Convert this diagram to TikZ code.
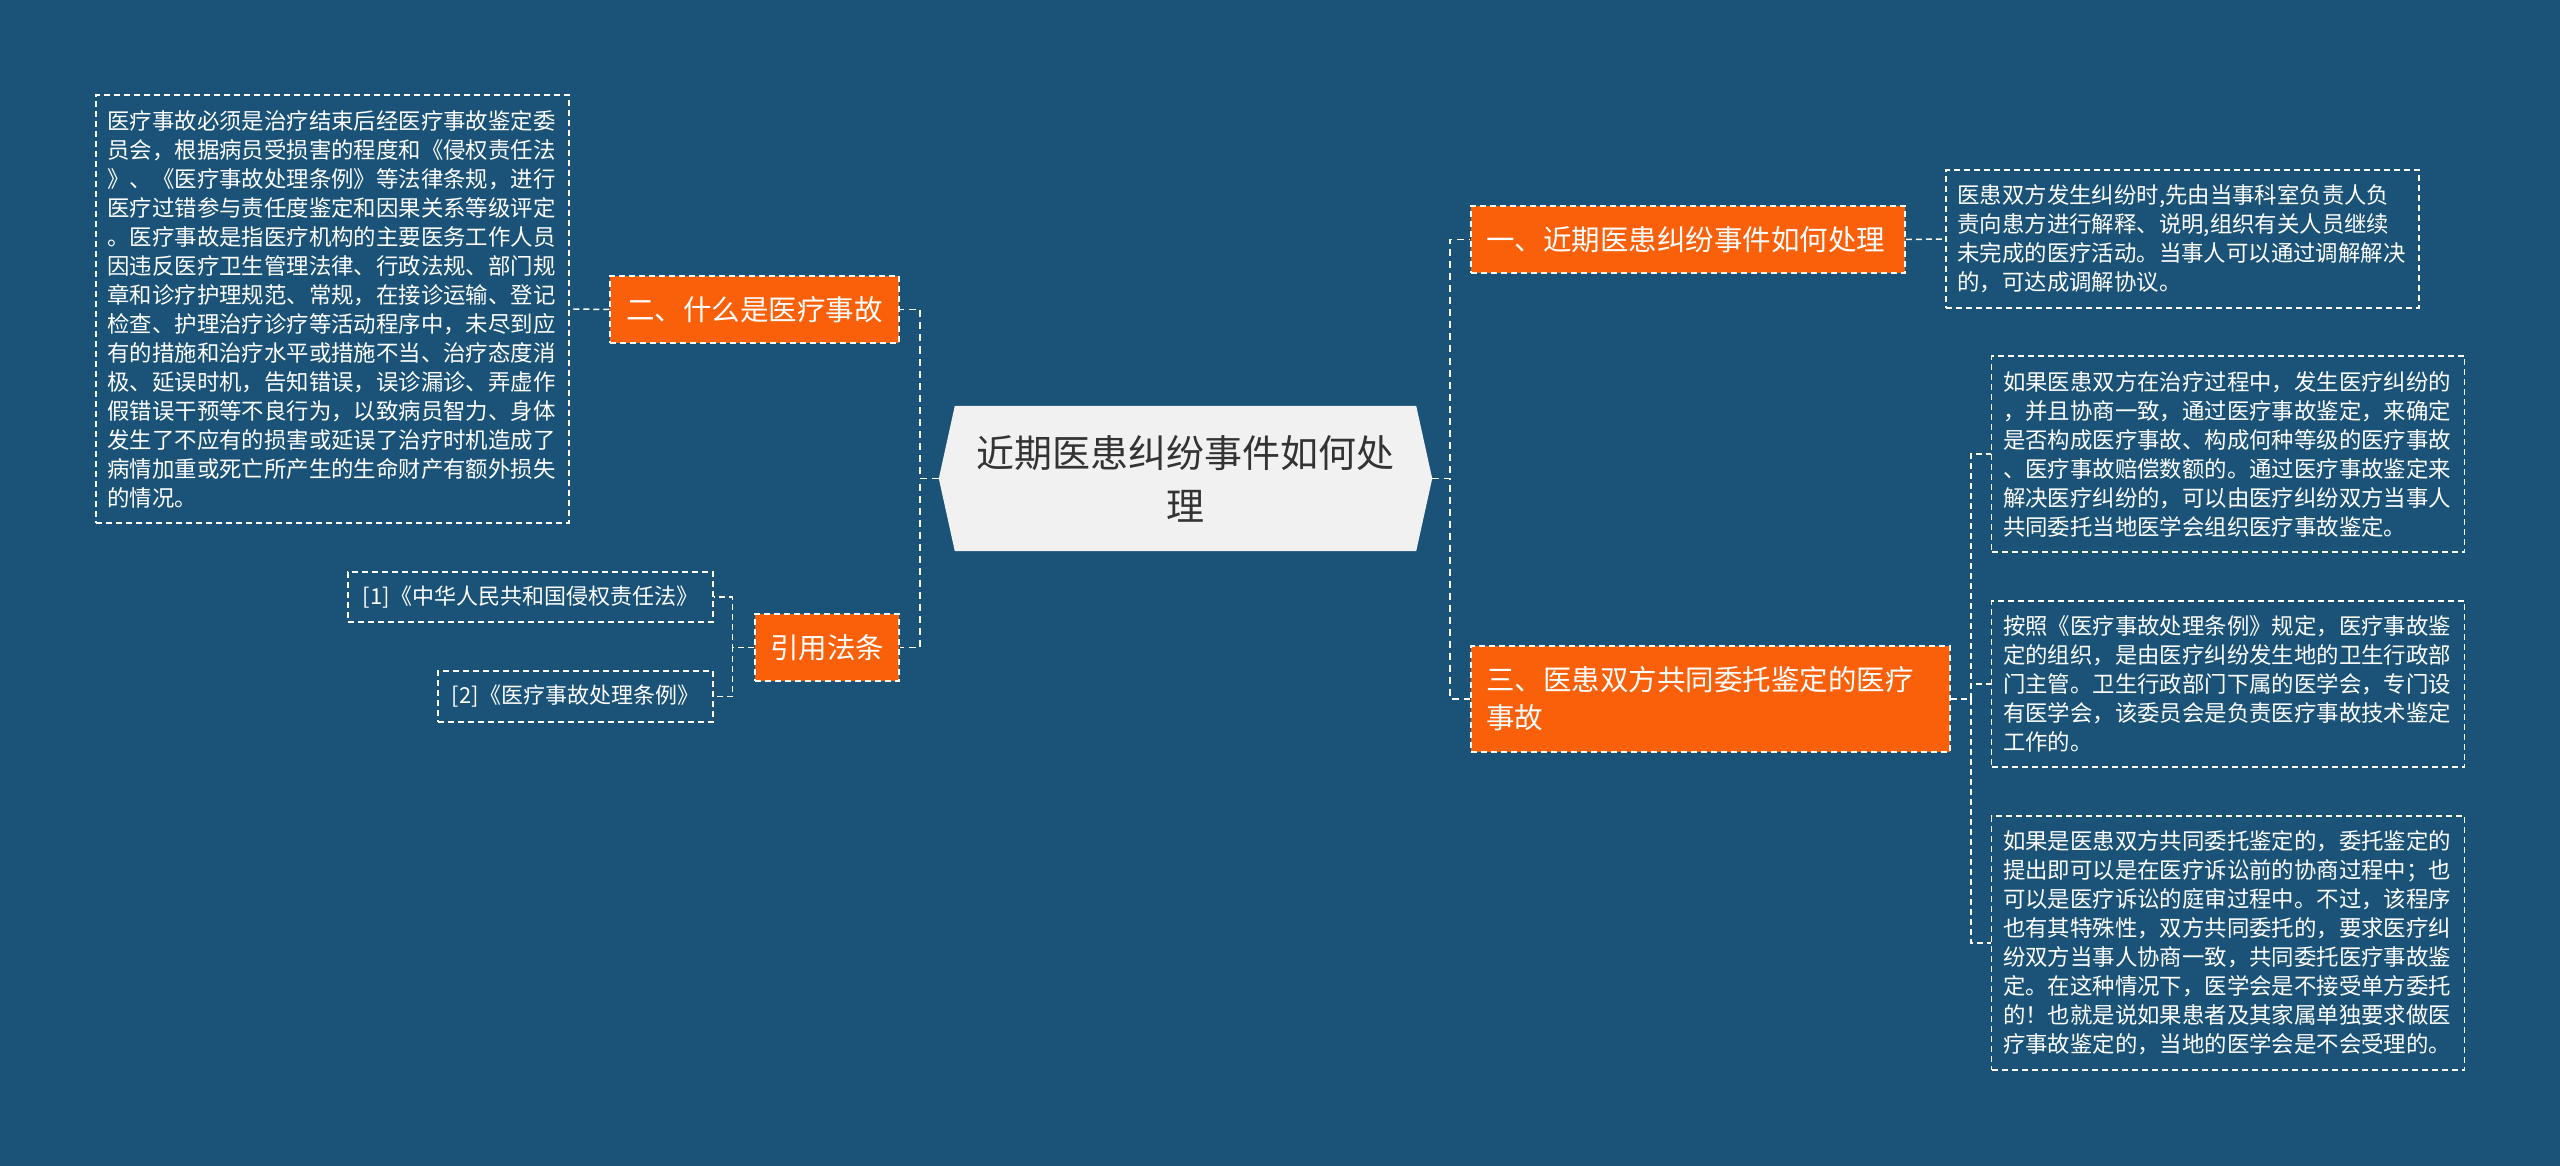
\documentclass[tikz,border=0pt]{standalone}
\usepackage{fontspec}
\setmainfont{Noto Sans CJK SC}
\definecolor{MapNavy}{HTML}{1B5378}
\definecolor{MapOrange}{HTML}{FA5F0A}
\definecolor{MapPaper}{HTML}{F1F1F1}
\definecolor{MapInk}{HTML}{333333}
\usetikzlibrary{positioning, calc, backgrounds}

\begin{document}
\begin{tikzpicture}[x=1pt, y=-1pt,
    link/.style={draw=white, line width=1.8pt, dash pattern=on 7pt off 5pt},
    twig/.style={draw=white, line width=1.5pt, dash pattern=on 6pt off 4pt},
    branch/.style={draw=white, line width=1.5pt, dash pattern=on 6pt off 4pt, fill=MapOrange, text=white, font=\fontsize{28.5}{38}\selectfont, inner sep=0pt},
    leaf/.style={draw=white, line width=1.3pt, dash pattern=on 6pt off 4pt, text=white, font=\fontsize{22.4}{29}\selectfont, align=left, text width=450pt, minimum width=473pt, inner sep=0pt},
    cite/.style={draw=white, line width=1.3pt, dash pattern=on 6pt off 4pt, text=white, font=\fontsize{22}{29}\selectfont, inner sep=0pt}]

    % Page background
    \begin{scope}[on background layer]
        \fill[MapNavy] (0,0) rectangle (2560,1166);
    \end{scope}
    \useasboundingbox (0,0) rectangle (2560,1166);

    % Central topic
    \node[minimum width=493pt, minimum height=145pt, inner sep=0pt, align=center, text=MapInk, font=\fontsize{38}{53}\selectfont] (root) at (1185.5,478.5) {近期医患纠纷事件如何处\\理};
    \begin{scope}[on background layer]
        \fill[MapPaper] ([xshift=16pt]root.north west) -- ([xshift=-16pt]root.north east) -- (root.east)
            -- ([xshift=-16pt]root.south east) -- ([xshift=16pt]root.south west) -- (root.west) -- cycle;
    \end{scope}

    % Main branches
    \node[branch, minimum width=434pt, minimum height=67pt, text width=404pt, align=left] (dispute) at (1688,239.5) {一、近期医患纠纷事件如何处理};
    \node[branch, minimum width=479pt, minimum height=106pt, text width=449pt, align=left] (entrust) at (1710.5,699) {三、医患双方共同委托鉴定的医疗\\事故};
    \node[branch, minimum width=289pt, minimum height=67pt] (accident) at (754.5,309.5) {二、什么是医疗事故};
    \node[branch, minimum width=144pt, minimum height=67pt] (statute) at (827,647.5) {引用法条};

    % Right leaves
    \node[leaf, minimum height=138pt] (handle) at (2182.5,239) {医患双方发生纠纷时,先由当事科室负责人负\\
        责向患方进行解释、说明,组织有关人员继续\\
        未完成的医疗活动。当事人可以通过调解解决\\
        的，可达成调解协议。};
    \node[leaf, minimum height=196pt] (consult) at (2228,454) {如果医患双方在治疗过程中，发生医疗纠纷的\\
        ，并且协商一致，通过医疗事故鉴定，来确定\\
        是否构成医疗事故、构成何种等级的医疗事故\\
        、医疗事故赔偿数额的。通过医疗事故鉴定来\\
        解决医疗纠纷的，可以由医疗纠纷双方当事人\\
        共同委托当地医学会组织医疗事故鉴定。};
    \node[leaf, minimum height=166pt] (organ) at (2228,684) {按照《医疗事故处理条例》规定，医疗事故鉴\\
        定的组织，是由医疗纠纷发生地的卫生行政部\\
        门主管。卫生行政部门下属的医学会，专门设\\
        有医学会，该委员会是负责医疗事故技术鉴定\\
        工作的。};
    \node[leaf, minimum height=254pt] (court) at (2228,943) {如果是医患双方共同委托鉴定的，委托鉴定的\\
        提出即可以是在医疗诉讼前的协商过程中；也\\
        可以是医疗诉讼的庭审过程中。不过，该程序\\
        也有其特殊性，双方共同委托的，要求医疗纠\\
        纷双方当事人协商一致，共同委托医疗事故鉴\\
        定。在这种情况下，医学会是不接受单方委托\\
        的！也就是说如果患者及其家属单独要求做医\\
        疗事故鉴定的，当地的医学会是不会受理的。};

    % Left leaves
    \node[leaf, minimum height=428pt] (define) at (332.5,309) {医疗事故必须是治疗结束后经医疗事故鉴定委\\
        员会，根据病员受损害的程度和《侵权责任法\\
        》、《医疗事故处理条例》等法律条规，进行\\
        医疗过错参与责任度鉴定和因果关系等级评定\\
        。医疗事故是指医疗机构的主要医务工作人员\\
        因违反医疗卫生管理法律、行政法规、部门规\\
        章和诊疗护理规范、常规，在接诊运输、登记\\
        检查、护理治疗诊疗等活动程序中，未尽到应\\
        有的措施和治疗水平或措施不当、治疗态度消\\
        极、延误时机，告知错误，误诊漏诊、弄虚作\\
        假错误干预等不良行为，以致病员智力、身体\\
        发生了不应有的损害或延误了治疗时机造成了\\
        病情加重或死亡所产生的生命财产有额外损失\\
        的情况。};
    \node[cite, minimum width=365pt, minimum height=50pt] (tortlaw) at (530.5,597) {[1]《中华人民共和国侵权责任法》};
    \node[cite, minimum width=275pt, minimum height=51pt] (rules) at (575.5,696.5) {[2]《医疗事故处理条例》};

    % Connectors
    \draw[link] (root.east) -- ++(18,0) |- (dispute.west);
    \draw[link] (root.east) -- ++(18,0) |- (entrust.west);
    \draw[link] (root.west) -- ++(-19,0) |- (accident.east);
    \draw[link] (root.west) -- ++(-19,0) |- (statute.east);
    \draw[twig] (dispute.east) -- (handle.west);
    \draw[twig] (entrust.east) -- ++(20,0) |- (consult.west);
    \draw[twig] (entrust.east) -- ++(20,0) |- (organ.west);
    \draw[twig] (entrust.east) -- ++(20,0) |- (court.west);
    \draw[twig] (accident.west) -- (define.east);
    \draw[twig] (statute.west) -- ++(-22,0) |- (tortlaw.east);
    \draw[twig] (statute.west) -- ++(-22,0) |- (rules.east);
\end{tikzpicture}
\end{document}
